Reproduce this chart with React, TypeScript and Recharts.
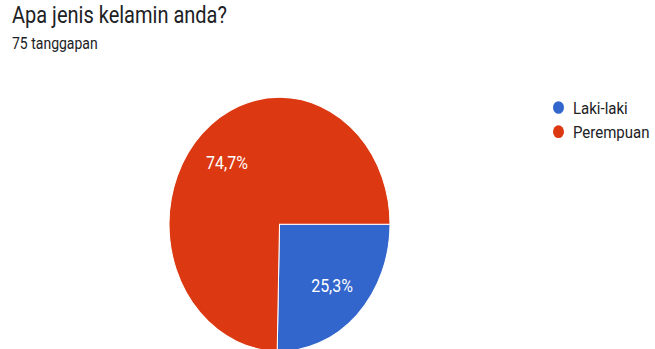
import React from 'react';
import { PieChart, Pie, Cell, Legend } from 'recharts';

const categories = ['Laki-laki', 'Perempuan'];
const responses = [19, 56];
const colors = ['#3366cc', '#dc3912'];

const data = categories.map((name, i) => ({ name, value: responses[i] }));

const FONT = 'Roboto, Arial, sans-serif';
const STRETCH = 1.15;

const renderLabel = (props: any) => {
  const { cx, cy, midAngle, outerRadius, percent } = props;
  const r = outerRadius * 0.68;
  const rad = (Math.PI / 180) * midAngle;
  const x = cx + r * Math.cos(rad);
  const y = cy - r * Math.sin(rad);
  return (
    <text x={x} y={y} fill="#ffffff" fontSize={16} fontFamily={FONT} textAnchor="middle" dominantBaseline="central">
      {(percent * 100).toFixed(1).replace('.', ',')}%
    </text>
  );
};

const renderLegend = (props: any) => {
  const { payload } = props;
  return (
    <div style={{ fontFamily: FONT, fontSize: 15, color: '#202124' }}>
      {payload.map((entry: any) => (
        <div key={entry.value} style={{ display: 'flex', alignItems: 'center', height: 21 }}>
          <span style={{ width: 11, height: 11, borderRadius: 6, background: entry.color, marginRight: 9 }} />
          <span>{entry.value}</span>
        </div>
      ))}
    </div>
  );
};

const App: React.FC = () => {
  return (
    <div style={{ position: 'absolute', left: 0, top: 0, width: 655, height: 349, overflow: 'hidden', background: '#fff' }}>
      <div style={{ width: 655, height: 310, transform: `scaleY(${STRETCH})`, transformOrigin: 'top left', position: 'relative' }}>
        <div style={{ position: 'absolute', left: 12, top: 1, fontFamily: FONT, fontSize: 20, color: '#202124', whiteSpace: 'nowrap' }}>
          Apa jenis kelamin anda?
        </div>
        <div style={{ position: 'absolute', left: 12, top: 30, fontFamily: FONT, fontSize: 14, color: '#202124', whiteSpace: 'nowrap' }}>
          75 tanggapan
        </div>
        <PieChart
          width={655}
          height={310}
          margin={{ top: 0, right: 0, bottom: 0, left: 0 }}
          style={{ position: 'absolute', left: 0, top: 0 }}
        >
          <Pie
            data={data}
            dataKey="value"
            nameKey="name"
            cx={279.5}
            cy={195}
            outerRadius={110.5}
            startAngle={0}
            endAngle={-360}
            stroke="#ffffff"
            strokeWidth={1}
            label={renderLabel}
            labelLine={false}
            isAnimationActive={false}
          >
            {data.map((d, i) => (
              <Cell key={d.name} fill={colors[i]} />
            ))}
          </Pie>
          <Legend
            layout="vertical"
            verticalAlign="top"
            align="right"
            content={renderLegend}
            wrapperStyle={{ left: 553, top: 83, width: 102 }}
          />
        </PieChart>
      </div>
    </div>
  );
};

export default App;
